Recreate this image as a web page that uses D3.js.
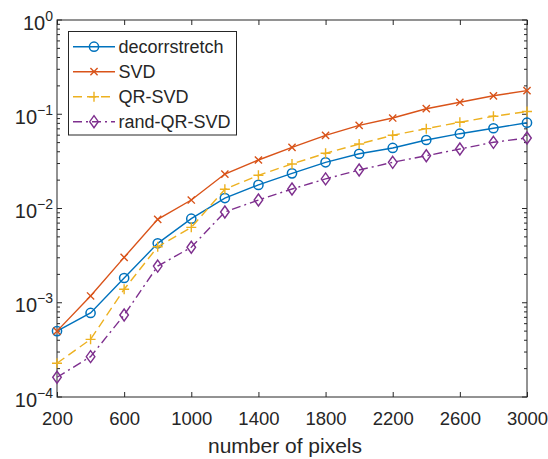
<!DOCTYPE html>
<html>
<head>
<meta charset="utf-8">
<script src="https://cdn.jsdelivr.net/npm/d3@7"></script>
<style>
  body { margin: 0; background: #fff; }
  text { font-family: Arial, "Liberation Sans", Helvetica, sans-serif; fill: #262626; }
</style>
</head>
<body>
<div id="chart"></div>
<script>
// data
var pixels = [200, 400, 600, 800, 1000, 1200, 1400, 1600, 1800, 2000, 2200, 2400, 2600, 2800, 3000];
var decorrstretch = [5.0e-4, 7.8e-4, 1.83e-3, 4.27e-3, 7.8e-3, 1.29e-2, 1.78e-2, 2.36e-2, 3.09e-2, 3.81e-2, 4.39e-2, 5.33e-2, 6.22e-2, 7.1e-2, 8.13e-2];
var svdErr = [5.0e-4, 1.18e-3, 3.03e-3, 7.68e-3, 1.23e-2, 2.32e-2, 3.27e-2, 4.46e-2, 5.98e-2, 7.63e-2, 9.12e-2, 0.1145, 0.134, 0.157, 0.178];
var qrSvd = [2.28e-4, 4.09e-4, 1.39e-3, 3.93e-3, 6.31e-3, 1.6e-2, 2.25e-2, 2.97e-2, 3.85e-2, 4.83e-2, 5.98e-2, 7.03e-2, 8.22e-2, 9.51e-2, 0.107];
var randQrSvd = [1.62e-4, 2.68e-4, 7.41e-4, 2.45e-3, 3.88e-3, 9.18e-3, 1.23e-2, 1.61e-2, 2.06e-2, 2.56e-2, 3.09e-2, 3.63e-2, 4.28e-2, 5.04e-2, 5.6e-2];
var seriesNames = ["decorrstretch", "SVD", "QR-SVD", "rand-QR-SVD"];
var xTicks = [200, 600, 1000, 1400, 1800, 2200, 2600, 3000];
var yTicks = [1e-4, 1e-3, 1e-2, 1e-1, 1];
var yExponents = ["\u22124", "\u22123", "\u22122", "\u22121", "0"];

var width = 548, height = 459;
var plotLeft = 57, plotRight = 527, plotTop = 20, plotBottom = 397;

var svg = d3.select("#chart").append("svg")
  .attr("width", width)
  .attr("height", height);

var xScale = d3.scaleLinear().domain([200, 3000]).range([plotLeft, plotRight]);
var yScale = d3.scaleLog().domain([1e-4, 1]).range([plotBottom, plotTop]);

// series styles (MATLAB default colours)
var styles = [
  { data: decorrstretch, color: "#0072BD", dash: null, marker: "circle" },
  { data: svdErr, color: "#D95319", dash: null, marker: "x" },
  { data: qrSvd, color: "#EDB120", dash: "9,5", marker: "plus" },
  { data: randQrSvd, color: "#7E2F8E", dash: "9,4,2,4", marker: "diamond" }
];

// draws a marker at (cx, cy)
function drawMarker(g, type, cx, cy, color) {
  if (type === "circle") {
    g.append("circle").attr("cx", cx).attr("cy", cy).attr("r", 4.6)
      .attr("fill", "none").attr("stroke", color).attr("stroke-width", 1.5);
  } else if (type === "x") {
    var s = 3.6;
    g.append("path")
      .attr("d", "M" + (cx - s) + "," + (cy - s) + "L" + (cx + s) + "," + (cy + s) +
        "M" + (cx - s) + "," + (cy + s) + "L" + (cx + s) + "," + (cy - s))
      .attr("stroke", color).attr("stroke-width", 1.4);
  } else if (type === "plus") {
    var p = 5;
    g.append("path")
      .attr("d", "M" + (cx - p) + "," + cy + "L" + (cx + p) + "," + cy +
        "M" + cx + "," + (cy - p) + "L" + cx + "," + (cy + p))
      .attr("stroke", color).attr("stroke-width", 1.4);
  } else {
    var w = 4.3, h = 6;
    g.append("path")
      .attr("d", "M" + cx + "," + (cy - h) + "L" + (cx + w) + "," + cy + "L" + cx + "," + (cy + h) +
        "L" + (cx - w) + "," + cy + "Z")
      .attr("fill", "none").attr("stroke", color).attr("stroke-width", 1.4);
  }
}

// axes box and ticks
var axisColor = "#262626";
svg.append("rect")
  .attr("x", plotLeft).attr("y", plotTop)
  .attr("width", plotRight - plotLeft).attr("height", plotBottom - plotTop)
  .attr("fill", "none").attr("stroke", axisColor).attr("stroke-width", 1);

var xAxis = d3.axisBottom(xScale).tickValues(xTicks).tickSize(-5).tickPadding(15)
  .tickSizeOuter(0).tickFormat(d3.format("d"));
var xg = svg.append("g").attr("transform", "translate(0," + plotBottom + ")").call(xAxis);
xg.select(".domain").remove();
xg.selectAll("line").attr("stroke", axisColor);
xg.selectAll("text").attr("font-size", 18.5).attr("fill", axisColor)
  .style("font-family", "Arial, 'Liberation Sans', sans-serif");

var xTop = d3.axisTop(xScale).tickValues(xTicks).tickSize(-5).tickFormat("");
var xtg = svg.append("g").attr("transform", "translate(0," + plotTop + ")").call(xTop);
xtg.select(".domain").remove();
xtg.selectAll("line").attr("stroke", axisColor);

// y ticks (major + minor, both sides)
var minor = [];
for (var e = -4; e < 0; e++) {
  for (var m = 2; m <= 9; m++) minor.push(m * Math.pow(10, e));
}
[plotLeft, plotRight].forEach(function(xPos) {
  var dir = xPos === plotLeft ? 1 : -1;
  yTicks.forEach(function(v) {
    svg.append("line")
      .attr("x1", xPos).attr("x2", xPos + dir * 5)
      .attr("y1", yScale(v)).attr("y2", yScale(v))
      .attr("stroke", axisColor);
  });
  minor.forEach(function(v) {
    svg.append("line")
      .attr("x1", xPos).attr("x2", xPos + dir * 3)
      .attr("y1", yScale(v)).attr("y2", yScale(v))
      .attr("stroke", axisColor);
  });
});

yTicks.forEach(function(v, i) {
  var t = svg.append("text")
    .attr("x", plotLeft - 4)
    .attr("y", yScale(v) + 9.5)
    .attr("text-anchor", "end")
    .attr("font-size", 20);
  t.append("tspan").text("10");
  t.append("tspan").attr("dy", -9).attr("font-size", 14).text(yExponents[i]);
});

svg.append("text")
  .attr("x", 285)
  .attr("y", 453)
  .attr("text-anchor", "middle")
  .attr("font-size", 21)
  .text("number of pixels");

// lines and markers
var line = d3.line()
  .x(function(d) { return xScale(d[0]); })
  .y(function(d) { return yScale(d[1]); });

styles.forEach(function(s) {
  var pts = pixels.map(function(p, i) { return [p, s.data[i]]; });
  svg.append("path")
    .datum(pts)
    .attr("d", line)
    .attr("fill", "none")
    .attr("stroke", s.color)
    .attr("stroke-width", 1.4)
    .attr("stroke-dasharray", s.dash);
  var mg = svg.append("g");
  pts.forEach(function(d) {
    drawMarker(mg, s.marker, xScale(d[0]), yScale(d[1]), s.color);
  });
});

// legend
var lg = svg.append("g");
lg.append("rect")
  .attr("x", 68.5).attr("y", 31.5)
  .attr("width", 168).attr("height", 103.5)
  .attr("fill", "#fff").attr("stroke", axisColor).attr("stroke-width", 1);

seriesNames.forEach(function(name, i) {
  var y = 46.7 + i * 25;
  var s = styles[i];
  lg.append("line")
    .attr("x1", 73).attr("x2", 115)
    .attr("y1", y).attr("y2", y)
    .attr("stroke", s.color).attr("stroke-width", 1.4)
    .attr("stroke-dasharray", s.dash);
  drawMarker(lg, s.marker, 94, y, s.color);
  lg.append("text")
    .attr("x", 118.5).attr("y", y + 6.5)
    .attr("font-size", 18)
    .text(name);
});
</script>
</body>
</html>
